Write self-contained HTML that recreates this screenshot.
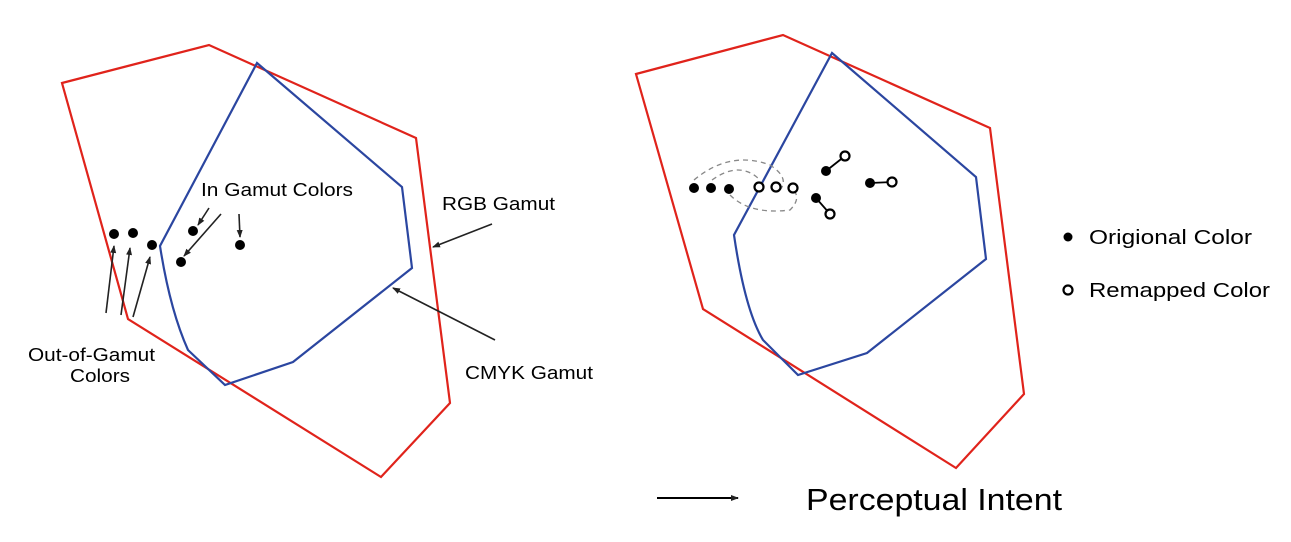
<!DOCTYPE html>
<html><head><meta charset="utf-8"><style>
html,body{margin:0;padding:0;background:#fff;}
svg{display:block;}
text{font-family:"Liberation Sans",Arial,sans-serif;fill:#000;}
</style></head><body>
<svg width="1291" height="542" viewBox="0 0 1291 542" xmlns="http://www.w3.org/2000/svg">
<defs>
<marker id="ah" markerWidth="8" markerHeight="8" refX="7" refY="4" orient="auto" markerUnits="userSpaceOnUse">
<path d="M0,1 L8,4 L0,7 Z" fill="#222"/></marker>
</defs>
<!-- Left diagram -->
<polygon points="62,83 209,45 416,138 450,403 381,477 128,319" fill="none" stroke="#e0231b" stroke-width="2.2"/>
<path d="M257,63 L402,187 L412,268 L293,362 L225,385 L188,350 Q170,310 160,246 Z" fill="none" stroke="#2b46a0" stroke-width="2.2"/>
<g fill="#000">
<circle cx="114" cy="234" r="5"/><circle cx="133" cy="233" r="5"/><circle cx="152" cy="245" r="5"/>
<circle cx="193" cy="231" r="5"/><circle cx="181" cy="262" r="5"/><circle cx="240" cy="245" r="5"/>
</g>
<g stroke="#222" stroke-width="1.6" fill="none" marker-end="url(#ah)">
<line x1="106" y1="313" x2="114" y2="246"/>
<line x1="121" y1="315" x2="130" y2="248"/>
<line x1="133" y1="317" x2="150" y2="257"/>
<line x1="209" y1="208" x2="198" y2="225"/>
<line x1="221" y1="214" x2="184" y2="256"/>
<line x1="239" y1="214" x2="240" y2="237"/>
<line x1="492" y1="224" x2="433" y2="247"/>
<line x1="495" y1="340" x2="393" y2="288"/>
</g>
<text x="201" y="196" font-size="18" textLength="152" lengthAdjust="spacingAndGlyphs">In Gamut Colors</text>
<text x="442" y="210" font-size="18" textLength="113" lengthAdjust="spacingAndGlyphs">RGB Gamut</text>
<text x="465" y="379" font-size="18" textLength="128" lengthAdjust="spacingAndGlyphs">CMYK Gamut</text>
<text x="28" y="361" font-size="18" textLength="127" lengthAdjust="spacingAndGlyphs">Out-of-Gamut</text>
<text x="70" y="382" font-size="18" textLength="60" lengthAdjust="spacingAndGlyphs">Colors</text>
<!-- Right diagram -->
<polygon points="636,74 783,35 990,128 1024,394 956,468 703,309" fill="none" stroke="#e0231b" stroke-width="2.2"/>
<path d="M832,53 L976,177 L986,259 L867,353 L798,375 L763,340 Q745,310 734,235 Z" fill="none" stroke="#2b46a0" stroke-width="2.2"/>
<g fill="none" stroke="#888" stroke-width="1.3" stroke-dasharray="5,4">
<path d="M694,180 Q730,150 770,165 Q790,178 780,190"/>
<path d="M730,195 Q750,215 790,210 Q800,200 795,192"/>
<path d="M712,180 Q740,160 760,180"/>
</g>
<g stroke="#000" stroke-width="1.8">
<line x1="826" y1="171" x2="845" y2="156"/>
<line x1="816" y1="198" x2="830" y2="214"/>
<line x1="870" y1="183" x2="892" y2="182"/>
</g>
<g fill="#000">
<circle cx="694" cy="188" r="5"/><circle cx="711" cy="188" r="5"/><circle cx="729" cy="189" r="5"/>
<circle cx="826" cy="171" r="5"/><circle cx="816" cy="198" r="5"/><circle cx="870" cy="183" r="5"/>
<circle cx="1068" cy="237" r="4.5"/>
</g>
<g fill="#fff" stroke="#000" stroke-width="2.2">
<circle cx="759" cy="187" r="4.5"/><circle cx="776" cy="187" r="4.5"/><circle cx="793" cy="188" r="4.5"/>
<circle cx="845" cy="156" r="4.5"/><circle cx="830" cy="214" r="4.5"/><circle cx="892" cy="182" r="4.5"/>
<circle cx="1068" cy="290" r="4.5"/>
</g>
<text x="1089" y="244" font-size="20" textLength="163" lengthAdjust="spacingAndGlyphs">Origional Color</text>
<text x="1089" y="297" font-size="20" textLength="181" lengthAdjust="spacingAndGlyphs">Remapped Color</text>
<line x1="657" y1="498" x2="738" y2="498" stroke="#000" stroke-width="2" marker-end="url(#ah)"/>
<text x="806" y="510" font-size="31" textLength="256" lengthAdjust="spacingAndGlyphs">Perceptual Intent</text>
</svg>
</body></html>
